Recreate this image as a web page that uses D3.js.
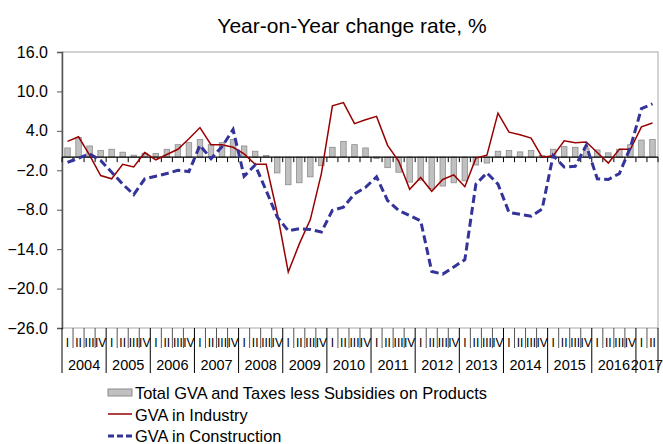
<!DOCTYPE html>
<html>
<head>
<meta charset="utf-8">
<script src="https://cdn.jsdelivr.net/npm/d3@7"></script>
<style>
  body { margin: 0; background: #fff; }
  svg { font-family: "Liberation Sans", Arial, sans-serif; }
</style>
</head>
<body>
<svg id="chart" width="663" height="444"></svg>
<script>
const years = ["2004","2005","2006","2007","2008","2009","2010","2011","2012","2013","2014","2015","2016","2017"];
const quarterNames = ["I","II","III","IV"];
const yTicks = [16, 10, 4, -2, -8, -14, -20, -26];

// Total GVA and Taxes less Subsidies on Products
const totalGva = [1.4, 3.0, 1.7, 1.0, 1.2, 0.75, 0.3, 0.6, 0.55, 1.2, 1.9, 2.2, 2.7, 1.9, 2.2, 2.7,
  1.7, 0.9, 0.25, -2.4, -4.2, -3.9, -3.0, -1.3, 1.5, 2.4, 1.9, 1.4, -0.2, -1.6, -2.3, -3.8,
  -3.5, -4.8, -4.4, -3.9, -3.6, -1.2, -0.9, 0.9, 1.0, 0.8, 1.0, 0.25, 1.2, 1.6, 1.5, 1.4,
  1.1, 0.65, 1.2, 1.9, 2.6, 2.7];
// GVA in Industry
const industry = [2.4, 3.1, 0.3, -2.8, -3.3, -1.1, -1.5, 0.7, -0.4, 0.4, 1.2, 2.8, 4.5, 1.9, 1.9, 1.5,
  0.5, -1.1, -1.1, -8.5, -17.5, -13.2, -9.5, -2.5, 7.8, 8.3, 5.1, 5.7, 6.2, 1.8, -0.6, -4.9,
  -3.1, -5.2, -3.4, -2.7, -4.5, -0.15, 0.3, 6.7, 3.8, 3.4, 2.9, 0.0, 0.2, 2.5, 2.2, 2.3,
  0.7, -0.9, 1.2, 1.2, 4.6, 5.2];
// GVA in Construction
const construction = [-0.8, -0.15, 0.5, -0.5, -2.3, -4.1, -5.7, -3.3, -2.9, -2.5, -2.0, -2.2, 1.8, -0.25, 1.6, 4.2,
  -2.9, -1.2, -5.1, -9.1, -11.2, -10.9, -11.0, -11.4, -8.1, -7.6, -5.6, -4.6, -3.0, -6.6, -8.1, -8.9,
  -9.7, -17.4, -17.8, -16.7, -15.6, -4.1, -2.4, -4.1, -8.4, -8.7, -9.0, -7.9, 0.25, -1.5, -1.4, 1.8,
  -3.3, -3.4, -2.5, 1.5, 7.4, 8.1];

const quarters = d3.range(totalGva.length).map(i => ({
  key: i,
  year: years[Math.floor(i / 4)],
  q: quarterNames[i % 4]
}));

const svg = d3.select("#chart");
const plotL = 62, plotR = 658, plotT = 52, plotB = 328;

const x = d3.scaleBand()
  .domain(quarters.map(d => d.key))
  .range([plotL, plotR])
  .paddingInner(0.5)
  .paddingOuter(0.25);
const step = x.step();
const y = d3.scaleLinear().domain([-26, 16]).range([plotB, plotT]);

// title
svg.append("text")
  .attr("x", 352).attr("y", 33)
  .attr("text-anchor", "middle")
  .style("font-size", "21px")
  .attr("fill", "#000")
  .text("Year-on-Year change rate, %");

// plot border
svg.append("rect")
  .attr("x", plotL).attr("y", plotT)
  .attr("width", plotR - plotL).attr("height", plotB - plotT)
  .attr("fill", "none")
  .attr("stroke", "#a6a6a6")
  .attr("stroke-width", 1);

// y axis
const yAxis = d3.axisLeft(y).tickValues(yTicks).tickSize(5).tickPadding(9)
  .tickFormat(d3.format(".1f"));
const yg = svg.append("g").attr("transform", `translate(${plotL},0)`).call(yAxis);
yg.select(".domain").attr("stroke", "#555").attr("stroke-width", 1.5);
yg.selectAll(".tick line").attr("stroke", "#555");
yg.selectAll(".tick text")
  .style("font-size", "16px")
  .attr("fill", "#000")
  .style("font-family", "'Liberation Sans', Arial, sans-serif");

// bars
svg.append("g").selectAll("rect")
  .data(totalGva)
  .join("rect")
  .attr("x", (d, i) => x(i))
  .attr("y", d => y(Math.max(0, d)))
  .attr("width", x.bandwidth())
  .attr("height", d => Math.abs(y(d) - y(0)))
  .attr("fill", "#c0c0c0")
  .attr("stroke", "#8c8c8c")
  .attr("stroke-width", 0.8);

// zero axis with ticks
const zg = svg.append("g");
zg.append("line")
  .attr("x1", plotL).attr("x2", plotR)
  .attr("y1", y(0)).attr("y2", y(0))
  .attr("stroke", "#000").attr("stroke-width", 1.2);
zg.selectAll("line.t")
  .data(d3.range(quarters.length + 1))
  .join("line")
  .attr("class", "t")
  .attr("x1", i => plotL + i * step).attr("x2", i => plotL + i * step)
  .attr("y1", y(0)).attr("y2", y(0) + 5)
  .attr("stroke", "#000").attr("stroke-width", 1);

// lines
const lineGen = d3.line()
  .x((d, i) => x(i) + x.bandwidth() / 2)
  .y(d => y(d));

svg.append("path")
  .datum(industry)
  .attr("d", lineGen)
  .attr("fill", "none")
  .attr("stroke", "#990000")
  .attr("stroke-width", 1.5);

svg.append("path")
  .datum(construction)
  .attr("d", lineGen)
  .attr("fill", "none")
  .attr("stroke", "#333399")
  .attr("stroke-width", 3)
  .attr("stroke-dasharray", "8,4");

// multi-level category axis
const cat = svg.append("g");
cat.selectAll("line.q")
  .data(d3.range(quarters.length + 1))
  .join("line")
  .attr("class", "q")
  .attr("x1", i => plotL + i * step).attr("x2", i => plotL + i * step)
  .attr("y1", plotB)
  .attr("y2", i => (i % 4 === 0 || i === quarters.length) ? 373 : 348)
  .attr("stroke", i => (i % 4 === 0 || i === quarters.length) ? "#000" : "#555")
  .attr("stroke-width", 1);

cat.selectAll("text.q")
  .data(quarters)
  .join("text")
  .attr("class", "q")
  .attr("x", d => x(d.key) + x.bandwidth() / 2)
  .attr("y", 347)
  .attr("text-anchor", "middle")
  .style("font-size", "12px")
  .attr("fill", "#000")
  .text(d => d.q);

cat.selectAll("text.y")
  .data(years)
  .join("text")
  .attr("class", "y")
  .attr("x", (d, i) => {
    const first = i * 4;
    const last = Math.min(first + 3, quarters.length - 1);
    return (plotL + first * step + plotL + (last + 1) * step) / 2;
  })
  .attr("y", 370)
  .attr("text-anchor", "middle")
  .style("font-size", "14.5px")
  .attr("fill", "#000")
  .text(d => d);

// legend
const lg = svg.append("g");
lg.append("rect")
  .attr("x", 108).attr("y", 389).attr("width", 24).attr("height", 7)
  .attr("fill", "#c0c0c0").attr("stroke", "#8c8c8c");
lg.append("text").attr("x", 135).attr("y", 399).style("font-size", "16.4px")
  .text("Total GVA and Taxes less Subsidies on Products");
lg.append("line").attr("x1", 108).attr("x2", 132).attr("y1", 414).attr("y2", 414)
  .attr("stroke", "#990000").attr("stroke-width", 1.5);
lg.append("text").attr("x", 135).attr("y", 421).style("font-size", "16.4px")
  .text("GVA in Industry");
lg.append("line").attr("x1", 108).attr("x2", 132).attr("y1", 436).attr("y2", 436)
  .attr("stroke", "#333399").attr("stroke-width", 3).attr("stroke-dasharray", "6,3");
lg.append("text").attr("x", 135).attr("y", 442).style("font-size", "16.4px")
  .text("GVA in Construction");
</script>
</body>
</html>
